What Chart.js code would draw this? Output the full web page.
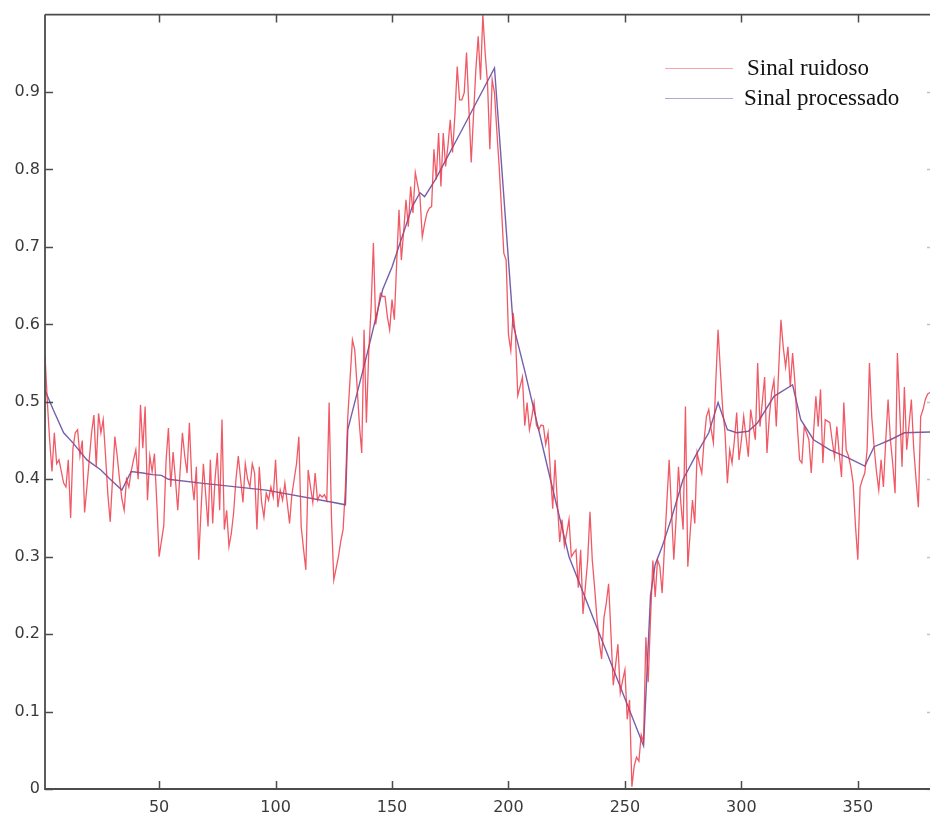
<!DOCTYPE html>
<html>
<head>
<meta charset="utf-8">
<title>Sinal ruidoso e sinal processado</title>
<script src="https://cdn.jsdelivr.net/npm/chart.js@4.4.1/dist/chart.umd.min.js"></script>
<style>
  html, body { margin: 0; padding: 0; background: #ffffff; }
  #wrap { width: 930px; height: 815px; }
</style>
</head>
<body>
<div id="wrap"><canvas id="chart" width="930" height="815"></canvas></div>
<script>
// Noisy samples, one per index 1..381
const noisy = [
  0.56, 0.50, 0.45, 0.41, 0.46, 0.42, 0.425, 0.41, 0.395, 0.39,
  0.425, 0.35, 0.44, 0.46, 0.464, 0.43, 0.45, 0.357, 0.39, 0.425,
  0.46, 0.483, 0.416, 0.485, 0.46, 0.477, 0.43, 0.38, 0.345, 0.40,
  0.455, 0.43, 0.40, 0.375, 0.36, 0.40, 0.39, 0.41, 0.425, 0.438,
  0.40, 0.496, 0.44, 0.494, 0.373, 0.43, 0.41, 0.433, 0.37, 0.30,
  0.32, 0.34, 0.425, 0.466, 0.39, 0.435, 0.40, 0.36, 0.41, 0.46,
  0.43, 0.408, 0.473, 0.40, 0.373, 0.416, 0.296, 0.36, 0.42, 0.38,
  0.339, 0.425, 0.343, 0.40, 0.434, 0.36, 0.477, 0.335, 0.36, 0.313,
  0.33, 0.357, 0.40, 0.43, 0.40, 0.37, 0.42, 0.40, 0.39, 0.42,
  0.408, 0.335, 0.416, 0.37, 0.351, 0.382, 0.373, 0.39, 0.377, 0.425,
  0.364, 0.386, 0.373, 0.395, 0.37, 0.343, 0.38, 0.40, 0.42, 0.455,
  0.339, 0.31, 0.283, 0.412, 0.39, 0.37, 0.408, 0.373, 0.38, 0.377,
  0.38, 0.373, 0.499, 0.35, 0.27, 0.285, 0.30, 0.32, 0.335, 0.39,
  0.48, 0.53, 0.58, 0.567, 0.52, 0.47, 0.434, 0.593, 0.473, 0.563,
  0.62, 0.705, 0.60, 0.62, 0.64, 0.636, 0.636, 0.61, 0.593, 0.632,
  0.606, 0.68, 0.748, 0.683, 0.72, 0.761, 0.726, 0.778, 0.744, 0.796,
  0.78, 0.765, 0.713, 0.73, 0.744, 0.75, 0.752, 0.826, 0.787, 0.847,
  0.778, 0.847, 0.804, 0.83, 0.864, 0.822, 0.87, 0.933, 0.89, 0.89,
  0.899, 0.951, 0.88, 0.809, 0.87, 0.929, 0.972, 0.916, 1.0, 0.95,
  0.912, 0.826, 0.916, 0.899, 0.85, 0.804, 0.75, 0.692, 0.683, 0.587,
  0.566, 0.615, 0.587, 0.508, 0.52, 0.532, 0.469, 0.499, 0.464, 0.48,
  0.499, 0.47, 0.464, 0.47, 0.469, 0.445, 0.46, 0.41, 0.362, 0.425,
  0.37, 0.319, 0.348, 0.314, 0.33, 0.348, 0.30, 0.305, 0.309, 0.26,
  0.309, 0.226, 0.26, 0.295, 0.358, 0.295, 0.26, 0.22, 0.19, 0.168,
  0.221, 0.24, 0.265, 0.201, 0.134, 0.16, 0.187, 0.124, 0.14, 0.154,
  0.09, 0.115, 0.003, 0.03, 0.041, 0.036, 0.07, 0.061, 0.196, 0.138,
  0.22, 0.295, 0.248, 0.296, 0.287, 0.253, 0.313, 0.37, 0.425, 0.36,
  0.296, 0.35, 0.416, 0.37, 0.335, 0.494, 0.287, 0.33, 0.373, 0.343,
  0.434, 0.42, 0.408, 0.45, 0.481, 0.49, 0.465, 0.447, 0.524, 0.593,
  0.54, 0.49, 0.46, 0.395, 0.438, 0.421, 0.45, 0.486, 0.425, 0.45,
  0.481, 0.455, 0.429, 0.49, 0.47, 0.451, 0.55, 0.468, 0.50, 0.532,
  0.434, 0.48, 0.512, 0.528, 0.468, 0.54, 0.606, 0.57, 0.545, 0.571,
  0.519, 0.563, 0.525, 0.47, 0.425, 0.421, 0.468, 0.46, 0.451, 0.408,
  0.46, 0.507, 0.468, 0.516, 0.421, 0.477, 0.475, 0.473, 0.45, 0.429,
  0.468, 0.434, 0.403, 0.499, 0.438, 0.43, 0.416, 0.395, 0.34, 0.296,
  0.39, 0.40, 0.408, 0.438, 0.55, 0.48, 0.442, 0.41, 0.386, 0.425,
  0.39, 0.45, 0.503, 0.451, 0.42, 0.382, 0.563, 0.49, 0.416, 0.519,
  0.438, 0.47, 0.503, 0.44, 0.40, 0.364, 0.481, 0.49, 0.503, 0.51,
  0.512
];

// Vertices of the processed (filtered) curve
const processedX = [
  1, 4.5, 9, 13, 19, 25, 29, 34, 38, 43, 47, 51, 54, 68, 96, 125, 130,
  131, 139, 146, 150, 158.7, 162, 164, 168.6, 180, 194,
  202, 207, 212.5, 218, 226, 258,
  261, 263, 266, 270, 275, 281, 286, 290, 294, 298, 303, 307, 314, 322,
  325.5, 331, 338, 345, 353, 357, 364, 370, 381
];
const processedY = [
  0.515, 0.49, 0.46, 0.447, 0.425, 0.412, 0.40, 0.386, 0.41, 0.408, 0.406, 0.405, 0.40, 0.395, 0.386, 0.37, 0.367,
  0.464, 0.558, 0.645, 0.674, 0.752, 0.77, 0.765, 0.787, 0.851, 0.931,
  0.60, 0.54, 0.47, 0.40, 0.30, 0.056,
  0.25, 0.29, 0.313, 0.35, 0.40, 0.434, 0.46, 0.499, 0.464, 0.46, 0.462, 0.473, 0.507, 0.522,
  0.477, 0.451, 0.438, 0.429, 0.417, 0.442, 0.451, 0.46, 0.461
];

const seriesNames = ['Sinal ruidoso', 'Sinal processado'];
const xTicks = [50, 100, 150, 200, 250, 300, 350];
const yTicks = [0, 0.1, 0.2, 0.3, 0.4, 0.5, 0.6, 0.7, 0.8, 0.9];

const noisyColor = 'rgba(236, 48, 62, 0.8)';
const processedColor = 'rgb(116, 96, 172)';
const axisColor = '#4c4c4c';
const tickFont = { family: 'DejaVu Sans', size: 16 };

// Box around the plot with inward tick marks on all four sides
const framePlugin = {
  id: 'frame',
  afterDraw(chart) {
    const { ctx, chartArea: a, scales } = chart;
    const len = 8;
    ctx.save();
    ctx.strokeStyle = axisColor;
    ctx.lineWidth = 1.8;
    ctx.beginPath();
    ctx.moveTo(a.left, a.top);
    ctx.lineTo(a.right, a.top);
    ctx.moveTo(a.left, a.top);
    ctx.lineTo(a.left, a.bottom);
    ctx.lineTo(a.right, a.bottom);
    ctx.stroke();
    ctx.lineWidth = 1.5;
    ctx.beginPath();
    xTicks.forEach(v => {
      const px = Math.round(scales.x.getPixelForValue(v)) + 0.5;
      ctx.moveTo(px, a.bottom);
      ctx.lineTo(px, a.bottom - len);
      ctx.moveTo(px, a.top);
      ctx.lineTo(px, a.top + len);
    });
    yTicks.forEach(v => {
      const py = Math.round(scales.y.getPixelForValue(v)) + 0.5;
      ctx.moveTo(a.left, py);
      ctx.lineTo(a.left + len, py);
    });
    ctx.stroke();
    ctx.strokeStyle = 'rgba(80,80,80,0.35)';
    ctx.beginPath();
    yTicks.forEach(v => {
      const py = Math.round(scales.y.getPixelForValue(v)) + 0.5;
      ctx.moveTo(a.right, py);
      ctx.lineTo(a.right - 3, py);
    });
    ctx.stroke();
    ctx.restore();
  }
};

// Legend drawn inside the plot, top right, without a box
const insideLegend = {
  id: 'insideLegend',
  afterDatasetsDraw(chart, args, opts) {
    const { ctx } = chart;
    ctx.save();
    chart.data.datasets.forEach((ds, i) => {
      const y = opts.y + i * opts.rowGap;
      ctx.strokeStyle = ds.borderColor;
      ctx.globalAlpha = 0.55;
      ctx.lineWidth = 1;
      ctx.beginPath();
      ctx.moveTo(opts.x, y + 0.5);
      ctx.lineTo(opts.x + opts.lineLen, y + 0.5);
      ctx.stroke();
      ctx.globalAlpha = 1;
      ctx.fillStyle = '#111';
      ctx.font = opts.font;
      ctx.textBaseline = 'middle';
      ctx.textAlign = 'left';
      ctx.fillText(ds.label, opts.x + opts.lineLen + opts.textGap - (i ? 3 : 0), y + 1);
    });
    ctx.restore();
  }
};

new Chart(document.getElementById('chart'), {
  type: 'line',
  data: {
    datasets: [
      {
        label: seriesNames[0],
        data: noisy.map((v, i) => ({ x: i + 1, y: v })),
        borderColor: noisyColor,
        borderWidth: 1.3,
        pointRadius: 0,
        tension: 0,
        fill: false
      },
      {
        label: seriesNames[1],
        data: processedX.map((x, i) => ({ x: x, y: processedY[i] })),
        borderColor: processedColor,
        borderWidth: 1.4,
        pointRadius: 0,
        tension: 0,
        fill: false
      }
    ]
  },
  plugins: [framePlugin, insideLegend],
  options: {
    responsive: false,
    animation: false,
    events: [],
    layout: { padding: { top: 14, right: 0, left: 0, bottom: 0 } },
    plugins: {
      legend: { display: false },
      tooltip: { enabled: false },
      insideLegend: {
        x: 665, y: 68, rowGap: 30, lineLen: 68, textGap: 14,
        font: '23px "Liberation Serif"'
      }
    },
    scales: {
      x: {
        type: 'linear',
        min: 1,
        max: 381,
        grid: { display: false, drawTicks: false },
        border: { display: false },
        afterBuildTicks: s => { s.ticks = xTicks.map(v => ({ value: v })); },
        afterFit: s => { s.height = 26; },
        ticks: { color: '#3a3a3a', font: tickFont, padding: 9, maxRotation: 0, autoSkip: false }
      },
      y: {
        type: 'linear',
        min: 0,
        max: 1,
        grid: { display: false, drawTicks: false },
        border: { display: false },
        afterBuildTicks: s => { s.ticks = yTicks.map(v => ({ value: v })); },
        afterFit: s => { s.width = 45; },
        ticks: {
          color: '#3a3a3a', font: tickFont, padding: 5, autoSkip: false,
          callback: v => (v === 0 ? '0' : v.toFixed(1))
        }
      }
    }
  }
});
</script>
</body>
</html>
